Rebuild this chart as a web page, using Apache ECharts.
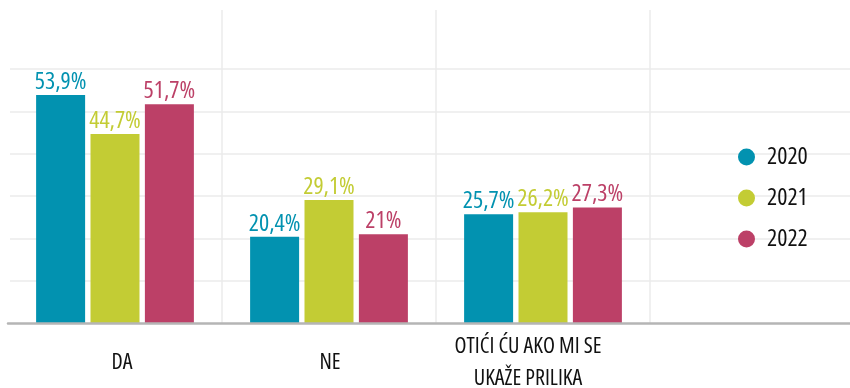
<!DOCTYPE html>
<html>
<head>
<meta charset="utf-8">
<script src="https://cdn.jsdelivr.net/npm/echarts@6/dist/echarts.min.js"></script>
<style>
  html, body { margin: 0; padding: 0; background: #fff; }
  #chart { width: 850px; height: 388px; }
</style>
</head>
<body>
<div id="chart"></div>
<script>
// Answer categories (the last slot stays empty and holds the legend area)
const categories = ['DA', 'NE', 'OTIĆI ĆU AKO MI SE\nUKAŽE PRILIKA', ''];
const years = ['2020', '2021', '2022'];
const values2020 = [53.9, 20.4, 25.7];
const values2021 = [44.7, 29.1, 26.2];
const values2022 = [51.7, 21, 27.3];
const colors = ['#0292b0', '#c3cc34', '#bc4067'];

// narrow headline face: Open Sans on its condensed width
const FONT = '"Open Sans", sans-serif';
const STRETCH = 'condensed';

// small horizontal nudges for the category captions
const captionPads = [[0, 0, 0, 14], [0, 0, 0, 2], [0, 30, 0, 0], [0, 0, 0, 0]];

function pct(v) {
  return String(v).replace('.', ',') + '%';
}

const seriesValues = [values2020, values2021, values2022];

const chart = echarts.init(document.getElementById('chart'), null, { renderer: 'canvas' });
chart.setOption({
  animation: false,
  color: colors,
  grid: [
    // bars and vertical separators
    { left: 8, right: -14, top: 10, bottom: 65, outerBoundsMode: 'none' },
    // horizontal guide lines, 0..60
    { left: 10, right: 0, top: 69, bottom: 65, outerBoundsMode: 'none' }
  ],
  legend: {
    orient: 'vertical',
    left: 733,
    top: 140,
    itemWidth: 17,
    itemHeight: 17,
    itemGap: 17,
    icon: 'circle',
    textStyle: {
      fontFamily: FONT, fontStyle: STRETCH, fontSize: 24, lineHeight: 24,
      color: '#111', padding: [0, 0, 0, 7]
    },
    data: years
  },
  xAxis: [
    {
      type: 'category',
      gridIndex: 0,
      data: categories.map((c, i) => ({
        value: c,
        textStyle: { padding: captionPads[i], verticalAlign: 'middle', lineHeight: 32 }
      })),
      z: 5,
      axisTick: { show: false },
      axisLine: { lineStyle: { color: '#b5b5b5', width: 2.5 } },
      axisLabel: {
        fontFamily: FONT,
        fontStyle: STRETCH,
        fontSize: 22,
        color: '#111',
        lineHeight: 32,
        verticalAlign: 'middle',
        margin: 40,
        interval: 0
      },
      splitLine: {
        show: true,
        showMinLine: false,
        showMaxLine: false,
        lineStyle: { color: '#ebebeb', width: 1.5 }
      }
    },
    {
      type: 'value',
      gridIndex: 1,
      show: false
    }
  ],
  yAxis: [
    {
      type: 'value',
      gridIndex: 0,
      min: 0,
      max: 74,
      interval: 10,
      axisLabel: { show: false },
      axisLine: { show: false },
      axisTick: { show: false },
      splitLine: { show: false }
    },
    {
      type: 'value',
      gridIndex: 1,
      min: 0,
      max: 60,
      interval: 10,
      axisLabel: { show: false },
      axisLine: { show: false },
      axisTick: { show: false },
      splitLine: { show: true, showMinLine: false, lineStyle: { color: '#ebebeb', width: 1.5 } }
    }
  ],
  series: years.map((y, i) => ({
    name: y,
    type: 'bar',
    xAxisIndex: 0,
    yAxisIndex: 0,
    data: seriesValues[i],
    barWidth: 49,
    barGap: '11%',
    itemStyle: { color: colors[i] },
    label: {
      show: true,
      position: 'top',
      distance: 1,
      fontFamily: FONT,
      fontStyle: STRETCH,
      fontSize: 24,
      color: colors[i],
      formatter: p => pct(p.value)
    }
  }))
});
</script>
</body>
</html>
